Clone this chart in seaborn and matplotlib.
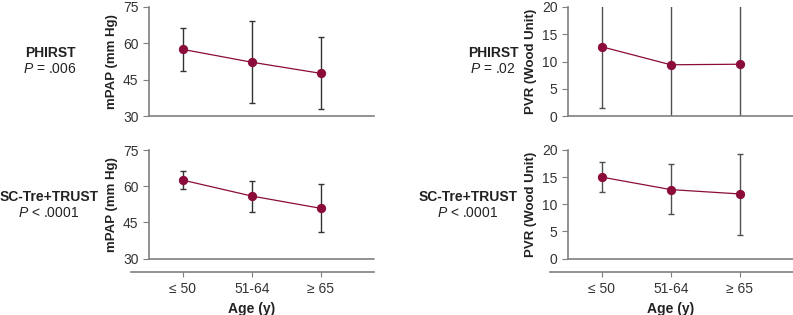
import matplotlib.pyplot as plt
import numpy as np
import seaborn as sns

sns.set_theme(style='ticks')
plt.rcParams['font.family'] = ['Liberation Sans', 'DejaVu Sans']
plt.rcParams['mathtext.fontset'] = 'custom'
plt.rcParams['mathtext.rm'] = 'Liberation Sans'
plt.rcParams['mathtext.it'] = 'Liberation Sans:italic'

# categories
ages = ['≤ 50', '51-64', '≥ 65']

# mPAP (mm Hg): mean, lower and upper bar ends
phirst_mpap = [57.5, 52.2, 47.6]
phirst_mpap_lo = [48.6, 35.2, 32.8]
phirst_mpap_hi = [66.2, 69.1, 62.5]
trust_mpap = [62.5, 55.9, 50.8]
trust_mpap_lo = [58.8, 49.4, 41.1]
trust_mpap_hi = [66.4, 62.3, 60.8]

# PVR (Wood Unit); PHIRST bars run past the axis limits
phirst_pvr = [12.7, 9.4, 9.5]
phirst_pvr_lo = [1.5, -3.0, -3.0]
phirst_pvr_hi = [24.0, 27.0, 27.0]
trust_pvr = [15.0, 12.7, 11.9]
trust_pvr_lo = [12.2, 8.2, 4.4]
trust_pvr_hi = [17.7, 17.4, 19.3]

mpap_ticks = [30, 45, 60, 75]
pvr_ticks = [0, 5, 10, 15, 20]

MAROON = '#8b0c3b'
SPINE = '#7f7f7f'
TEXT = '#222222'
W, H = 793, 315


def draw_panel(ax, vals, lo, hi, ticks, ylabel, bottom, bar_color):
    """Draws one mean +/- range panel."""
    vals = np.asarray(vals)
    yerr = [vals - np.asarray(lo), np.asarray(hi) - vals]
    ax.errorbar(range(len(ages)), vals, yerr=yerr, fmt='none', ecolor=bar_color,
                elinewidth=1.0, capsize=2.2, capthick=1.0, zorder=1)
    sns.pointplot(ax=ax, x=ages, y=vals, color=MAROON, errorbar=None,
                  markersize=6, linewidth=0.9)
    ax.set_xlim(-0.49, 2.77)
    ax.set_ylim(ticks[0], ticks[-1])
    ax.set_yticks(ticks)
    ax.set_ylabel(ylabel, fontsize=9.5, fontweight='bold', color=TEXT)
    ax.yaxis.set_label_coords(-0.137, 0.5)
    sns.despine(ax=ax)
    for side in ('left', 'bottom'):
        ax.spines[side].set_color(SPINE)
        ax.spines[side].set_linewidth(1.2)
    ax.tick_params(axis='y', length=4.5, width=0.8, color=SPINE, pad=3,
                   labelsize=10, labelcolor='#333333')
    if bottom:
        ax.axhline(ticks[0], color=SPINE, lw=1.2, clip_on=False, zorder=3)
        ax.spines['bottom'].set_position(('outward', 9.4))
        ax.spines['bottom'].set_bounds(-0.75, 2.77)
        ax.spines['bottom'].set_clip_on(False)
        ax.tick_params(axis='x', length=3.5, width=0.8, color=SPINE, pad=4,
                       labelsize=10, labelcolor='#333333')
        ax.set_xlabel('Age (y)', fontsize=10, fontweight='bold', color=TEXT, labelpad=4)
        ax.xaxis.label.set_x(0.457)
    else:
        ax.tick_params(axis='x', length=0, labelbottom=False)
        ax.set_xlabel('')


def main():
    fig = plt.figure(figsize=(W / 100, H / 100), dpi=100)
    pw = 225 / W
    ax_tl = fig.add_axes([149 / W, 1 - 116 / H, pw, 109 / H])
    ax_bl = fig.add_axes([149 / W, 1 - 258.5 / H, pw, 108.5 / H])
    ax_tr = fig.add_axes([568 / W, 1 - 116 / H, pw, 109 / H])
    ax_br = fig.add_axes([568 / W, 1 - 258.5 / H, pw, 108.5 / H])

    draw_panel(ax_tl, phirst_mpap, phirst_mpap_lo, phirst_mpap_hi, mpap_ticks,
               'mPAP (mm Hg)', False, '#333333')
    draw_panel(ax_bl, trust_mpap, trust_mpap_lo, trust_mpap_hi, mpap_ticks,
               'mPAP (mm Hg)', True, '#333333')
    draw_panel(ax_tr, phirst_pvr, phirst_pvr_lo, phirst_pvr_hi, pvr_ticks,
               'PVR (Wood Unit)', False, '#505050')
    draw_panel(ax_br, trust_pvr, trust_pvr_lo, trust_pvr_hi, pvr_ticks,
               'PVR (Wood Unit)', True, '#505050')

    # group labels with P values
    labels = [
        (50, 52.7, 'PHIRST', r'$P$ = .006'),
        (49, 196.7, 'SC-Tre+TRUST', r'$P$ < .0001'),
        (493, 52.7, 'PHIRST', r'$P$ = .02'),
        (468, 196.7, 'SC-Tre+TRUST', r'$P$ < .0001'),
    ]
    for x, y, name, pval in labels:
        fig.text(x / W, 1 - y / H, name, ha='center', va='center',
                 fontsize=10, fontweight='bold', color=TEXT)
        fig.text(x / W, 1 - (y + 16.5) / H, pval, ha='center', va='center',
                 fontsize=10, color=TEXT)

    fig.savefig('out.png', dpi=100)


if __name__ == '__main__':
    main()
